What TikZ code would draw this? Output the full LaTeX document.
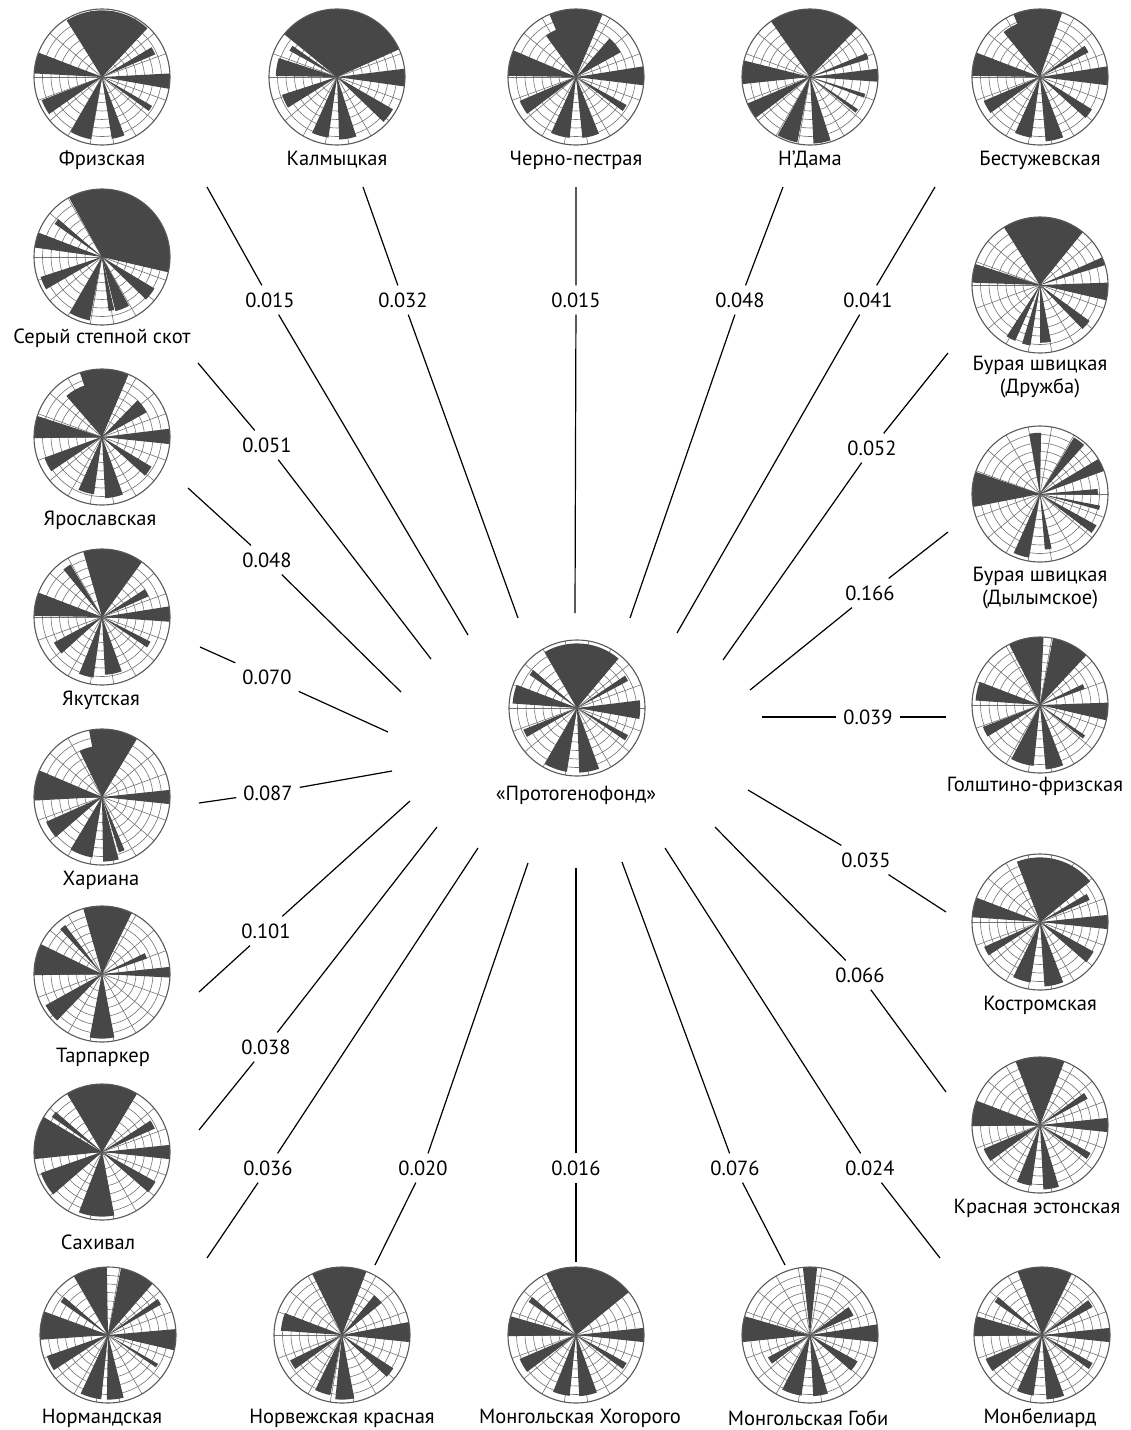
\documentclass[tikz,border=0pt]{standalone}
\usepackage{fontspec}
\setmainfont{PT Sans}

\tikzset{
  ring/.style={black!55, line width=0.6pt},
  rim/.style={black!65, line width=1.1pt},
  wedge/.style={fill=black!72},
  breed/.style={inner sep=0pt, align=center, font=\fontsize{20.5}{23}\selectfont},
  dist/.style={fill=white, inner sep=7pt, font=\fontsize{20.5}{23}\selectfont},
  link/.style={line width=1.2pt},
}

% rose chart: centre, list of wedges start/end/length
\newcommand{\rosechart}[2]{%
  \begin{scope}[shift={#1}]
    \foreach \k in {2,...,7} \draw[ring] (0,0) circle ({\k*8.5});
    \foreach \sa in {0,20,...,340} \draw[ring] (0,0) -- (\sa:68);
    \foreach \sa/\sb/\sr in {#2}
      \fill[wedge] (0,0) -- ({\sa-1}:{\sr*68}) arc[start angle={\sa-1}, end angle={\sb+1}, radius={\sr*68}] -- cycle;
    \draw[rim] (0,0) circle (68);
  \end{scope}}

\begin{document}
\begin{tikzpicture}[x=1pt, y=1pt]
\useasboundingbox (0,0) rectangle (1131,-1430);

% top row
\rosechart{(102,-77)}{48/121/0.98, 24/30/0.85, -9/2/1.0, -35/-31/0.85, -80/-70/0.92, -119/-101/0.93, -158/-146/0.95, 160/176/1.0}
\rosechart{(337,-77)}{25/140/1.0, -7/6/1.0, -43/-31/0.95, -87/-73/0.92, -113/-99/0.9, -161/-149/0.85, 163/178/0.9, 146/150/0.8}
\rosechart{(576,-77)}{68/112/1.0, 112/125/0.75, 30/48/0.75, -6/8/1.0, -35/-30/0.85, -83/-69/0.9, -113/-97/0.9, -156/-144/0.9, 158/178/1.0}
\rosechart{(810,-77)}{47/124/1.0, 18/22/0.9, -3/6/1.0, -20/-18/0.85, -37/-35/0.85, -86/-73/0.98, -118/-102/0.98, -156/-144/1.0, 167/185/1.0}
\rosechart{(1040,-77)}{72/112/1.0, 112/128/0.85, 28/34/0.8, -6/8/1.0, -41/-33/0.9, -84/-70/0.95, -113/-99/0.9, -156/-145/0.9, 160/178/1.0}
% left column
\rosechart{(102,-257)}{-12/118/1.0, 160/171/1.0, 140/144/0.85, -161/-151/0.95, -119/-102/0.95, -82/-78/0.8, -75/-62/0.82, -43/-32/0.9}
\rosechart{(102,-437)}{68/108/1.0, 108/130/0.8, 30/45/0.75, -5/6/1.0, -41/-32/0.85, -86/-71/0.9, -113/-99/0.85, -159/-147/0.9, 163/180/1.0}
\rosechart{(102,-617)}{55/105/1.0, 122/128/0.9, 25/32/0.75, -3/8/1.0, -33/-28/0.8, -86/-71/0.85, -111/-99/0.9, -151/-139/0.8, 160/178/1.0}
\rosechart{(102,-797)}{60/100/1.0, 100/115/0.75, -5/5/1.0, -72/-68/0.85, -88/-76/0.95, -120/-100/0.9, -155/-140/0.9, 158/182/1.0}
\rosechart{(102,-974)}{65/105/1.0, 128/132/0.9, 20/25/0.7, -2/5/1.0, -100/-80/0.95, -150/-135/0.95, 155/180/1.0}
\rosechart{(102,-1152)}{60/120/1.0, 140/144/0.9, 25/32/0.85, -5/5/1.0, -40/-30/0.9, -110/-80/0.95, -160/-140/0.95, 150/185/1.0}
% bottom row
\rosechart{(108,-1335)}{92/119/1.0, 50/78/1.0, 31/35/0.9, -12/4/1.0, -33/-31/0.85, 161/183/1.0, -160/-148/0.95, -114/-97/0.95, -90/-77/0.95, 140/144/0.85}
\rosechart{(342,-1335)}{70/115/1.0, 40/50/0.75, -5/10/1.0, -42/-34/0.9, -95/-80/0.95, -115/-102/0.9, -153/-145/0.85, 160/175/0.9}
\rosechart{(576,-1335)}{40/115/1.0, 140/144/0.85, -5/5/1.0, -35/-30/0.85, -86/-71/0.9, -111/-97/0.9, -156/-144/0.9, 165/180/1.0}
\rosechart{(810,-1335)}{85/95/1.0, 25/35/0.7, -5/8/1.0, -40/-30/0.8, -86/-74/0.9, -116/-99/0.9, -151/-144/0.7, 165/185/1.0}
\rosechart{(1042,-1335)}{65/110/1.0, 30/36/0.85, -5/5/1.0, -35/-30/0.85, -85/-71/0.95, -113/-99/0.9, -156/-145/0.9, 165/180/1.0, 140/144/0.85}
% right column
\rosechart{(1040,-285)}{52/121/1.0, 18/23/1.0, -12/1/1.0, 163/177/1.0, -122/-115/0.9, -106/-100/0.9, -89/-80/0.85, -45/-37/0.9}
\rosechart{(1040,-494)}{90/99/0.9, 49/58/0.97, 21/30/1.0, 0/4/0.85, -14/-12/0.9, 162/190/1.0, -36/-30/0.95, -113/-101/0.95, -84/-79/0.82}
\rosechart{(1040,-705)}{88/116/1.0, 48/78/1.0, 21/25/0.7, -12/1/1.0, -37/-35/0.8, 160/175/0.95, -158/-150/0.9, -117/-97/0.9, -84/-70/0.95}
\rosechart{(1040,-922)}{40/110/0.95, 25/30/0.8, -5/5/1.0, -40/-30/0.9, -85/-70/0.95, -115/-100/0.9, -155/-148/0.9, 160/175/1.0}
\rosechart{(1040,-1125)}{70/110/1.0, 30/35/0.8, -5/5/1.0, -35/-30/0.85, -86/-74/0.95, -111/-99/0.9, -156/-145/0.9, 160/180/1.0}
% centre
\rosechart{(577,-708)}{51/119/0.95, 29/33/0.85, -9/6/0.93, 160/175/0.95, -157/-151/0.85, -119/-100/0.95, -87/-71/0.95, -33/-29/0.85, 140/144/0.85}

% names
\foreach \n/\x/\y/\t in {a/102/160/Фризская, b/337/160/Калмыцкая, c/576/160/Черно-пестрая,
    d/810/160/Н’Дама, e/1040/160/Бестужевская,
    f/102/338/Серый степной скот, g/100/520/Ярославская, h/101/700/Якутская,
    i/101/880/Хариана, j/103/1057/Тарпаркер, k/98/1242/Сахивал,
    l/102/1418/Нормандская, m/342/1418/Норвежская красная, n/580/1418/Монгольская Хогорого,
    o/808/1418/Монгольская Гоби, p/1040/1418/Монбелиард,
    q/1040/377/{Бурая швицкая\\(Дружба)}, r/1040/588/{Бурая швицкая\\(Дылымское)},
    s/1035/786/Голштино-фризская, t/1040/1005/Костромская, u/1037/1208/Красная эстонская,
    z/576/795/«Протогенофонд»}
  \node[breed] (name\n) at (\x,-\y) {\t};

% distances
\foreach \n/\ox/\oy/\lx/\ly/\ix/\iy/\v in {
    a/207/187/270/300/468/635/0.015, b/363/187/403/300/518/618/0.032,
    c/576/187/576/300/575/613/0.015, d/783/187/740/300/630/618/0.048,
    e/935/187/868/300/677/633/0.041, q/948/353/872/448/723/660/0.052,
    r/948/532/870/593/750/690/0.166, s/946/717/868/717/762/717/0.039,
    t/946/912/866/860/748/790/0.035, u/946/1092/860/975/715/827/0.066,
    p/940/1258/870/1168/665/848/0.024, o/785/1265/735/1168/622/862/0.076,
    n/576/1262/576/1168/576/868/0.016, m/375/1265/423/1168/528/863/0.020,
    l/207/1258/268/1168/478/848/0.036, k/199/1130/266/1047/437/827/0.038,
    j/199/992/266/931/410/801/0.101, i/199/803/268/793/392/771/0.087,
    h/200/647/267/677/388/732/0.070, g/188/488/267/560/401/692/0.048,
    f/198/363/267/445/431/659/0.051}
{
  \coordinate (out\n) at (\ox,-\oy);
  \coordinate (in\n) at (\ix,-\iy);
  \node[dist] (d\n) at (\lx,-\ly) {\v};
  \draw[link] (out\n) -- (d\n) -- (in\n);
}

\end{tikzpicture}
\end{document}
